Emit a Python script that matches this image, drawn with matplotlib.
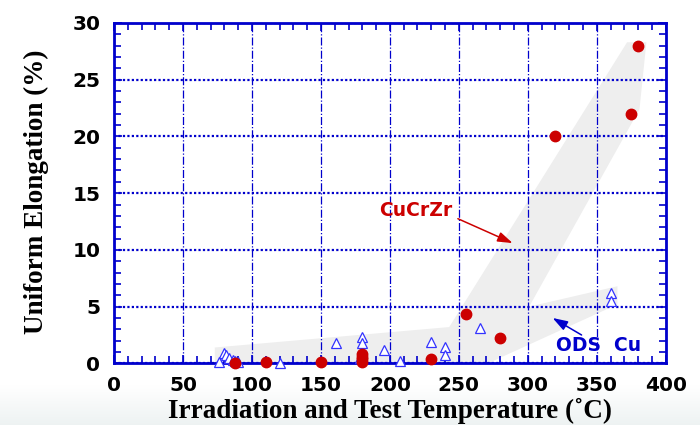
import matplotlib
matplotlib.use("Agg")
import matplotlib.pyplot as plt
from matplotlib.patches import Polygon
from matplotlib.ticker import MultipleLocator
import numpy as np

# CuCrZr data (red circles)
cucrzr_T = [88, 110, 150, 180, 180, 180, 180, 230, 255, 280, 320, 375, 380]
cucrzr_e = [0.0, 0.15, 0.15, 0.1, 0.35, 0.6, 0.85, 0.36, 4.35, 2.25, 20.0, 22.0, 28.0]

# ODS Cu data (open triangles)
ods_T = [76, 80, 81, 83, 86, 88, 90, 120, 161, 178, 180, 180, 196, 207, 230, 240, 240, 265, 360, 360]
ods_e = [0.15, 0.95, 0.7, 0.45, 0.3, 0.2, 0.1, 0.0, 1.83, 0.5, 2.35, 1.8, 1.18, 0.2, 1.9, 1.45, 0.74, 3.15, 6.2, 5.5]

# shaded trend band
band_T = [73, 73, 243, 372, 386, 381, 301, 365, 365, 262]
band_e = [-0.5, 1.4, 3.2, 28.3, 28.3, 22.4, 5.0, 6.8, 5.2, -0.5]

blue = '#0000cc'
red = '#cc0000'

fig = plt.figure(figsize=(7, 4.25), dpi=100)

# faint gradient strip along the bottom of the figure
bg = fig.add_axes([0, 0, 1, 1], zorder=-10)
grad = np.ones((425, 1, 3))
t = np.clip((np.arange(425) - 385) / 40.0, 0, 1)
for i, c in enumerate([0.93, 0.95, 0.95]):
    grad[:, 0, i] = 1 - t * (1 - c)
bg.imshow(grad, aspect='auto', extent=[0, 1, 0, 1], origin='upper')
bg.axis('off')

ax = fig.add_axes([0.163, 0.145, 0.788, 0.801])
ax.set_facecolor('none')

ax.add_patch(Polygon(list(zip(band_T, band_e)), closed=True,
                     facecolor='#eeeeee', edgecolor='none', zorder=1))

ax.plot(ods_T, ods_e, linestyle='none', marker='^', markersize=7.5,
        markerfacecolor='white', markeredgecolor='#3333ff', markeredgewidth=0.9,
        zorder=3, clip_on=False)
ax.plot(cucrzr_T, cucrzr_e, linestyle='none', marker='o', markersize=7.5,
        color=red, zorder=4, clip_on=False)

ax.set_xlim(0, 400)
ax.set_ylim(0, 30)
ax.xaxis.set_major_locator(MultipleLocator(50))
ax.xaxis.set_minor_locator(MultipleLocator(10))
ax.yaxis.set_major_locator(MultipleLocator(5))
ax.yaxis.set_minor_locator(MultipleLocator(1))

ax.grid(True, axis='x', which='major', color=blue, linestyle='-.', linewidth=0.9, zorder=2)
ax.grid(True, axis='y', which='major', color=blue, linestyle=(0, (1, 1)), linewidth=1.6, zorder=2)
ax.set_axisbelow(False)

for s in ax.spines.values():
    s.set_color(blue)
    s.set_linewidth(2)
ax.tick_params(which='both', direction='in', top=True, right=True, color=blue, width=1.2)
ax.tick_params(which='major', length=6)
ax.tick_params(which='minor', length=5)
ax.tick_params(axis='x', pad=9)
ax.tick_params(axis='y', pad=10)

for lab in ax.get_xticklabels() + ax.get_yticklabels():
    lab.set_family('DejaVu Sans')
    lab.set_fontweight('bold')
    lab.set_fontsize(14.5)

ax.set_xlabel('Irradiation and Test Temperature (˚C)', family='Liberation Serif',
              fontweight='bold', fontsize=19.5, va='center')
ax.set_ylabel('Uniform Elongation (%)', family='Liberation Serif',
              fontweight='bold', fontsize=19.5, va='center')
ax.xaxis.set_label_coords(0.5, -0.14)
ax.yaxis.set_label_coords(-0.141, 0.503)

head = '-|>,head_length=0.9,head_width=0.3'
ax.text(219, 13.5, 'CuCrZr', ha='center', va='center', color=red,
        family='DejaVu Sans', fontweight='bold', fontsize=13.5, zorder=5)
ax.annotate('', xy=(289, 10.6), xytext=(249.3, 12.75),
            arrowprops=dict(arrowstyle=head, color=red, lw=1.1, shrinkA=0, shrinkB=0), zorder=5)
ax.text(351, 1.58, 'ODS  Cu', ha='center', va='center', color=blue,
        family='DejaVu Sans', fontweight='bold', fontsize=13.5, zorder=5)
ax.annotate('', xy=(318, 4.0), xytext=(339, 2.5),
            arrowprops=dict(arrowstyle=head, color=blue, lw=1.1, shrinkA=0, shrinkB=0), zorder=5)

fig.savefig('out.png', dpi=100)
